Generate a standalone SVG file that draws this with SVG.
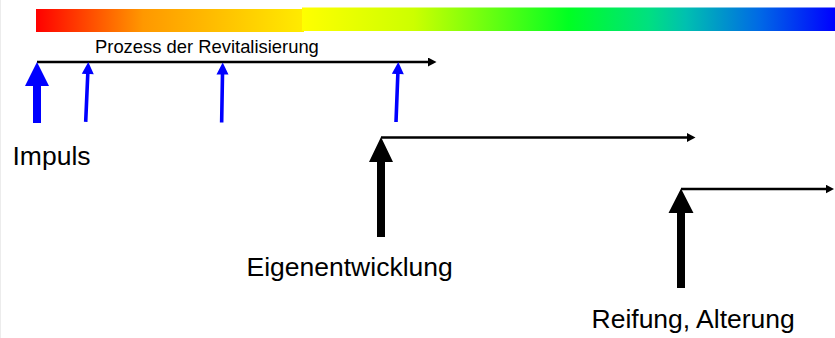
<svg xmlns="http://www.w3.org/2000/svg" width="835" height="338" viewBox="0 0 835 338">
  <defs>
    <linearGradient id="warmBand" x1="0" y1="0" x2="1" y2="0">
      <stop offset="0" stop-color="#ff0000"/>
      <stop offset="0.4" stop-color="#ff9800"/>
      <stop offset="1" stop-color="#ffec00"/>
    </linearGradient>
    <linearGradient id="coolBand" x1="0" y1="0" x2="1" y2="0">
      <stop offset="0" stop-color="#ffff00"/>
      <stop offset="0.21" stop-color="#ccff00"/>
      <stop offset="0.5" stop-color="#00ff22"/>
      <stop offset="0.65" stop-color="#00e080"/>
      <stop offset="0.72" stop-color="#00c0b0"/>
      <stop offset="0.86" stop-color="#0068e6"/>
      <stop offset="1" stop-color="#0000ff"/>
    </linearGradient>
    <marker id="lineHead" markerUnits="userSpaceOnUse" markerWidth="10" markerHeight="10" refX="1" refY="4.5" orient="auto">
      <path d="M0,0 L8.5,4.5 L0,9 Z" fill="#000"/>
    </marker>
    <!-- thin blue arrow, tip at origin, pointing up -->
    <polygon id="thinArrow" points="0,0 6,12 1.8,12 1.8,60 -1.8,60 -1.8,12 -6,12"/>
  </defs>
  <style>
    .label { font-family: "Liberation Sans", Arial, sans-serif; fill: #000; }
    .big { font-size: 26.5px; }
    .small { font-size: 18.4px; }
    .timeline { stroke: #000; stroke-width: 2.5; fill: none; marker-end: url(#lineHead); }
    .blue { fill: #0000ff; }
    .black { fill: #000; }
  </style>

  <rect width="835" height="338" fill="#fff"/>
  <line x1="0.5" y1="0" x2="0.5" y2="338" stroke="#ececec" stroke-width="1"/>

  <!-- colour band -->
  <g id="colour-band">
    <rect x="36" y="9" width="268" height="23" fill="url(#warmBand)"/>
    <rect x="302" y="7.5" width="533" height="23.5" fill="url(#coolBand)"/>
  </g>

  <!-- connectors -->
  <g id="connectors">
    <line class="timeline" x1="37" y1="62" x2="429" y2="62"/>
    <line class="timeline" x1="381" y1="137.5" x2="688" y2="137.5"/>
    <line class="timeline" x1="681" y1="189" x2="826.5" y2="189"/>
  </g>

  <g id="process">
    <text class="label small" x="95" y="53">Prozess der Revitalisierung</text>
  </g>

  <g id="impulse">
    <polygon class="blue" points="37,62 49,86 41,86 41,123 33,123 33,86 25,86"/>
    <use href="#thinArrow" class="blue" transform="translate(88.3,62) rotate(2.5)"/>
    <use href="#thinArrow" class="blue" transform="translate(222.7,62.5) rotate(1)"/>
    <use href="#thinArrow" class="blue" transform="translate(398.3,62) rotate(2.2)"/>
    <text class="label big" x="12.5" y="165">Impuls</text>
  </g>

  <g id="own-development">
    <polygon class="black" points="381,137 393,162 385,162 385,237 377,237 377,162 369,162"/>
    <text class="label big" x="246.5" y="276">Eigenentwicklung</text>
  </g>

  <g id="maturing">
    <polygon class="black" points="681,188.5 693.5,213 685,213 685,288 677,288 677,213 668.5,213"/>
    <text class="label big" x="591.5" y="328">Reifung, Alterung</text>
  </g>
</svg>
